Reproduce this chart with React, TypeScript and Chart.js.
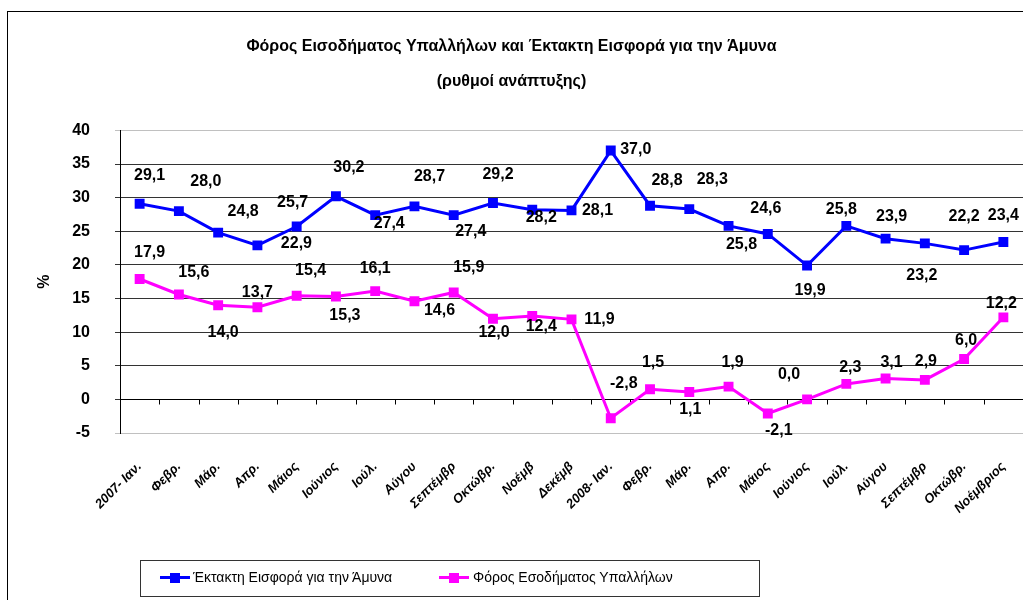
import React, { useEffect, useRef } from "react";
import { Chart, registerables } from "chart.js";

Chart.register(...registerables);

const categories = [
  "2007- Ιαν.", "Φεβρ.", "Μάρ.", "Απρ.", "Μάιος", "Ιούνιος", "Ιούλ.", "Αύγου", "Σεπτέμβρ", "Οκτώβρ.", "Νοέμβ", "Δεκέμβ",
  "2008- Ιαν.", "Φεβρ.", "Μάρ.", "Απρ.", "Μάιος", "Ιούνιος", "Ιούλ.", "Αύγου", "Σεπτέμβρ", "Οκτώβρ.", "Νοέμβριος",
];

const defenceLevy = [29.1, 28.0, 24.8, 22.9, 25.7, 30.2, 27.4, 28.7, 27.4, 29.2, 28.2, 28.1, 37.0, 28.8, 28.3, 25.8, 24.6, 19.9, 25.8, 23.9, 23.2, 22.2, 23.4];
const incomeTax = [17.9, 15.6, 14.0, 13.7, 15.4, 15.3, 16.1, 14.6, 15.9, 12.0, 12.4, 11.9, -2.8, 1.5, 1.1, 1.9, -2.1, 0.0, 2.3, 3.1, 2.9, 6.0, 12.2];

const yMin = -5;
const yMax = 40;
const yStep = 5;

const seriesNames = ["Έκτακτη Εισφορά για την Άμυνα", "Φόρος Εσοδήματος Υπαλλήλων"];
const titleLines = ["Φόρος Εισοδήματος Υπαλλήλων και Έκτακτη Εισφορά για την Άμυνα", "(ρυθμοί ανάπτυξης)"];

// label placement (style): offset from each point, in px
const blueLabelOffsets = [
  [10, -28], [27, -29], [25, -21], [39, -2], [-4, -24], [13, -29], [14, 8], [15, -30], [17, 16], [5, -28], [9, 8], [26, 0],
  [25, -1], [17, -25], [23, -29], [13, 19], [-2, -25], [3, 25], [-5, -16], [6, -22], [-3, 32], [0, -34], [0, -26],
];
const pinkLabelOffsets = [
  [10, -26], [15, -22], [5, 27], [0, -15], [14, -25], [9, 19], [0, -23], [25, 9], [15, -25], [1, 14], [9, 11], [28, 0],
  [13, -35], [3, -27], [1, 18], [4, -24], [11, 17], [-18, -25], [4, -16], [6, -16], [1, -18], [2, -18], [-2, -14],
];

const FONT = "'Liberation Sans', Arial, sans-serif";
const BLUE = "#0000ff";
const PINK = "#ff00ff";

const fmt = (v: number) => v.toFixed(1).replace(".", ",");

const zeroAxisPlugin = {
  id: "zeroAxis",
  beforeDatasetsDraw(chart: any) {
    const { ctx, chartArea, scales } = chart;
    const y = Math.round(scales.y.getPixelForValue(0)) + 0.5;
    const n = categories.length;
    const step = (chartArea.right - chartArea.left) / n;
    ctx.save();
    ctx.strokeStyle = "#000";
    ctx.lineWidth = 1;
    ctx.beginPath();
    ctx.moveTo(chartArea.left, y);
    ctx.lineTo(chartArea.right, y);
    for (let i = 0; i <= n; i++) {
      const x = Math.round(chartArea.left + i * step) + 0.5;
      ctx.moveTo(x, y);
      ctx.lineTo(x, y + 5);
    }
    ctx.stroke();
    ctx.restore();
  },
};

const labelsPlugin = {
  id: "pointLabels",
  afterDatasetsDraw(chart: any) {
    const { ctx } = chart;
    const offsets = [blueLabelOffsets, pinkLabelOffsets];
    ctx.save();
    ctx.font = `bold 16px ${FONT}`;
    ctx.fillStyle = "#000";
    ctx.textAlign = "center";
    ctx.textBaseline = "middle";
    chart.data.datasets.forEach((ds: any, di: number) => {
      const meta = chart.getDatasetMeta(di);
      meta.data.forEach((pt: any, i: number) => {
        const [dx, dy] = offsets[di][i];
        ctx.fillText(fmt(ds.data[i]), pt.x + dx, pt.y + dy);
      });
    });
    ctx.restore();
  },
};

export default function App() {
  const ref = useRef<HTMLCanvasElement | null>(null);

  useEffect(() => {
    if (!ref.current) return;
    Chart.defaults.font.family = FONT;
    const chart = new Chart(ref.current, {
      type: "line",
      data: {
        labels: categories,
        datasets: [
          {
            label: seriesNames[0],
            data: defenceLevy,
            borderColor: BLUE,
            backgroundColor: BLUE,
            borderWidth: 3,
            pointStyle: "rect",
            pointRadius: 7,
            pointBorderWidth: 0,
            tension: 0,
          },
          {
            label: seriesNames[1],
            data: incomeTax,
            borderColor: PINK,
            backgroundColor: PINK,
            borderWidth: 3,
            pointStyle: "rect",
            pointRadius: 7,
            pointBorderWidth: 0,
            tension: 0,
          },
        ],
      },
      options: {
        responsive: false,
        animation: false,
        layout: { padding: 0, autoPadding: false },
        plugins: {
          legend: { display: false },
          tooltip: { enabled: false },
          title: {
            display: true,
            text: titleLines[0],
            color: "#000",
            font: { size: 16, weight: "bold", family: FONT, lineHeight: 1.2 },
            padding: { top: 37, bottom: 16 },
          },
          subtitle: {
            display: true,
            text: titleLines[1],
            color: "#000",
            font: { size: 16, weight: "bold", family: FONT, lineHeight: 1.2 },
            padding: { top: 0, bottom: 39 },
          },
        },
        scales: {
          x: {
            type: "category",
            offset: true,
            grid: { display: false, drawTicks: false },
            border: { display: false },
            ticks: {
              autoSkip: false,
              minRotation: 45,
              maxRotation: 45,
              color: "#000",
              padding: 26,
              font: { size: 13, weight: "bold", style: "italic", family: FONT },
            },
            afterFit: (scale: any) => {
              scale.height = 167;
              scale.paddingRight = 0;
              scale.paddingLeft = 0;
            },
          },
          y: {
            min: yMin,
            max: yMax,
            ticks: {
              stepSize: yStep,
              color: "#000",
              padding: 25,
              font: { size: 16, weight: "bold", family: FONT },
            },
            grid: {
              tickLength: 5,
              lineWidth: 1,
              color: (c: any) => (c.tick && (c.tick.value === yMax || c.tick.value === yMin) ? "#c0c0c0" : "#333333"),
            },
            border: { display: true, color: "#000", width: 1 },
            title: {
              display: true,
              text: "%",
              color: "#000",
              font: { size: 16, weight: "bold", family: FONT },
              padding: { top: 35, bottom: 4 },
            },
            afterFit: (scale: any) => {
              scale.width = 120;
            },
          },
        },
      },
      plugins: [zeroAxisPlugin, labelsPlugin],
    } as any);
    return () => chart.destroy();
  }, []);

  const legendText: React.CSSProperties = {
    position: "absolute",
    top: 568,
    fontFamily: FONT,
    fontSize: 14,
    color: "#000",
    lineHeight: "18px",
    whiteSpace: "nowrap",
  };
  const line = (left: number, color: string) => (
    <>
      <div style={{ position: "absolute", left, top: 576, width: 30, height: 3, background: color }} />
      <div style={{ position: "absolute", left: left + 10, top: 573, width: 10, height: 10, background: color }} />
    </>
  );

  return (
    <div style={{ position: "fixed", left: 0, top: 0, width: 1023, height: 600, overflow: "hidden", background: "#fff" }}>
      <div style={{ position: "absolute", left: 7, top: 11, width: 1100, height: 700, border: "1px solid #000" }} />
      <canvas ref={ref} width={1023} height={600} style={{ position: "absolute", left: 0, top: 0, width: 1023, height: 600 }} />
      <div style={{ position: "absolute", left: 140, top: 560, width: 618, height: 35, border: "1px solid #333" }} />
      {line(160, BLUE)}
      <div style={{ ...legendText, left: 193 }}>{seriesNames[0]}</div>
      {line(439, PINK)}
      <div style={{ ...legendText, left: 473 }}>{seriesNames[1]}</div>
    </div>
  );
}
